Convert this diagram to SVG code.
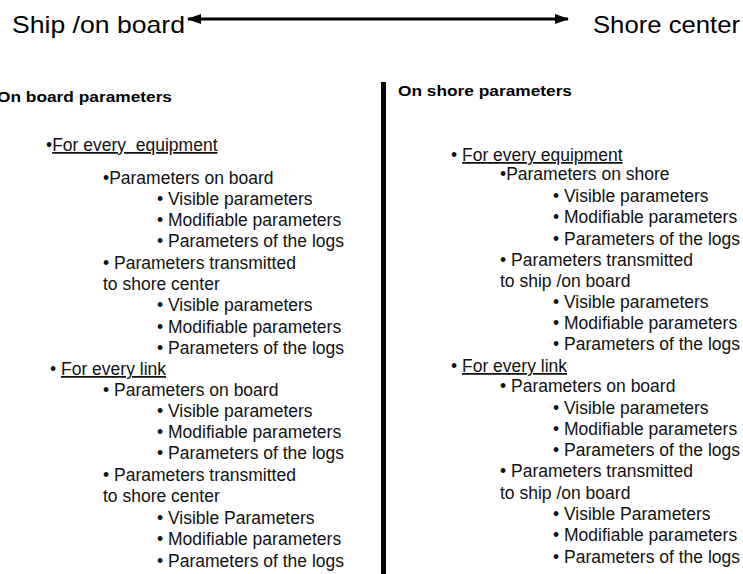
<svg xmlns="http://www.w3.org/2000/svg" width="743" height="574" viewBox="0 0 743 574">
  <style>
    .title { font-family: "Liberation Sans", Arial, sans-serif; font-size: 24px; fill: #000; }
    .head { font-family: "Liberation Sans", Arial, sans-serif; font-size: 15px; font-weight: bold; fill: #000; }
    .item { font-family: "Liberation Sans", Arial, sans-serif; font-size: 17.5px; fill: #111; white-space: pre; }
    .ul { text-decoration: underline; }
  </style>
  <defs>
    <marker id="head" viewBox="0 0 14 10" refX="13" refY="5" markerWidth="14" markerHeight="10" markerUnits="userSpaceOnUse" orient="auto-start-reverse">
      <path d="M0,0 L14,5 L0,10 Z" fill="#000"/>
    </marker>
  </defs>
  <rect width="743" height="574" fill="#fff"/>

  <!-- endpoints of the exchange -->
  <g id="ship">
    <text class="title" x="12" y="33" textLength="173" lengthAdjust="spacingAndGlyphs">Ship /on board</text>
  </g>
  <g id="shore">
    <text class="title" x="593" y="33" textLength="147" lengthAdjust="spacingAndGlyphs">Shore center</text>
  </g>

  <g id="connectors">
    <line x1="188" y1="19" x2="568" y2="19" stroke="#000" stroke-width="3" marker-start="url(#head)" marker-end="url(#head)"/>
    <rect x="381" y="82" width="5" height="492" fill="#000"/>
  </g>

  <!-- on board column -->
  <g id="onboard">
    <text class="head" x="-3" y="102" textLength="175" lengthAdjust="spacingAndGlyphs">On board parameters</text>
    <text class="item" x="46" y="151">•<tspan class="ul">For every  equipment</tspan></text>
    <text class="item" x="103" y="184">•Parameters on board</text>
    <text class="item" x="157" y="205">• Visible parameters</text>
    <text class="item" x="157" y="226">• Modifiable parameters</text>
    <text class="item" x="157" y="247">• Parameters of the logs</text>
    <text class="item" x="103" y="269">• Parameters transmitted</text>
    <text class="item" x="103" y="290">to shore center</text>
    <text class="item" x="157" y="311">• Visible parameters</text>
    <text class="item" x="157" y="333">• Modifiable parameters</text>
    <text class="item" x="157" y="354">• Parameters of the logs</text>
    <text class="item" x="50" y="375">• <tspan class="ul">For every link</tspan></text>
    <text class="item" x="103" y="396">• Parameters on board</text>
    <text class="item" x="157" y="417">• Visible parameters</text>
    <text class="item" x="157" y="438">• Modifiable parameters</text>
    <text class="item" x="157" y="459">• Parameters of the logs</text>
    <text class="item" x="103" y="481">• Parameters transmitted</text>
    <text class="item" x="103" y="502">to shore center</text>
    <text class="item" x="157" y="524">• Visible Parameters</text>
    <text class="item" x="157" y="545">• Modifiable parameters</text>
    <text class="item" x="157" y="567">• Parameters of the logs</text>
  </g>

  <!-- on shore column -->
  <g id="onshore">
    <text class="head" x="398" y="96" textLength="174" lengthAdjust="spacingAndGlyphs">On shore parameters</text>
    <text class="item" x="451" y="161">• <tspan class="ul">For every equipment</tspan></text>
    <text class="item" x="500" y="180">•Parameters on shore</text>
    <text class="item" x="553" y="202">• Visible parameters</text>
    <text class="item" x="553" y="223">• Modifiable parameters</text>
    <text class="item" x="553" y="245">• Parameters of the logs</text>
    <text class="item" x="500" y="266">• Parameters transmitted</text>
    <text class="item" x="500" y="287">to ship /on board</text>
    <text class="item" x="553" y="308">• Visible parameters</text>
    <text class="item" x="553" y="329">• Modifiable parameters</text>
    <text class="item" x="553" y="350">• Parameters of the logs</text>
    <text class="item" x="451" y="372">• <tspan class="ul">For every link</tspan></text>
    <text class="item" x="500" y="392">• Parameters on board</text>
    <text class="item" x="553" y="414">• Visible parameters</text>
    <text class="item" x="553" y="435">• Modifiable parameters</text>
    <text class="item" x="553" y="456">• Parameters of the logs</text>
    <text class="item" x="500" y="477">• Parameters transmitted</text>
    <text class="item" x="500" y="499">to ship /on board</text>
    <text class="item" x="553" y="520">• Visible Parameters</text>
    <text class="item" x="553" y="541">• Modifiable parameters</text>
    <text class="item" x="553" y="563">• Parameters of the logs</text>
  </g>
</svg>
